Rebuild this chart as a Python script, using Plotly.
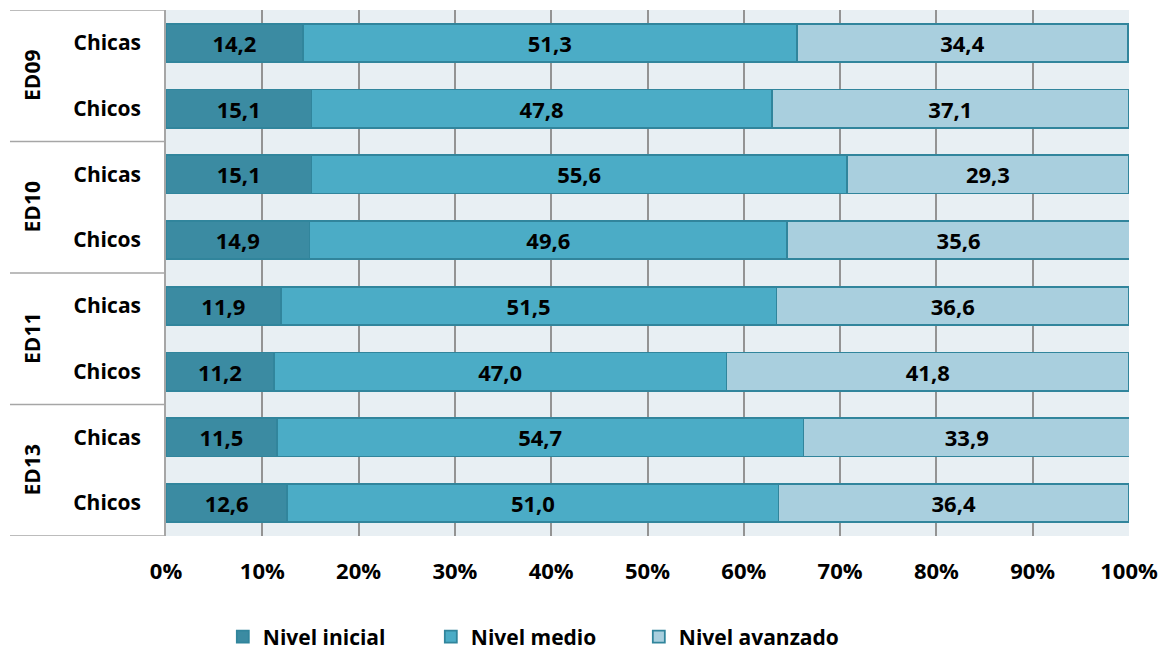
import plotly.graph_objects as go

groups = ["ED09", "ED09", "ED10", "ED10", "ED11", "ED11", "ED13", "ED13"]
sexes = ["Chicas", "Chicos", "Chicas", "Chicos", "Chicas", "Chicos", "Chicas", "Chicos"]
nivel_inicial = [14.2, 15.1, 15.1, 14.9, 11.9, 11.2, 11.5, 12.6]
nivel_medio = [51.3, 47.8, 55.6, 49.6, 51.5, 47.0, 54.7, 51.0]
nivel_avanzado = [34.4, 37.1, 29.3, 35.6, 36.6, 41.8, 33.9, 36.4]
series_names = ["Nivel inicial", "Nivel medio", "Nivel avanzado"]
x_ticks = [0, 10, 20, 30, 40, 50, 60, 70, 80, 90, 100]

colors = ["#3B8BA2", "#4BACC6", "#A9CFDE"]
outline = "#31859C"
FONT = "Open Sans"
bold_font = dict(family=FONT, size=21, color="black", weight="bold")
label_font = dict(family=FONT, size=22, color="black", weight="bold")

cats = [f"{g} {s}" for g, s in zip(groups, sexes)]

fig = go.Figure()
for name, vals, col in zip(series_names, [nivel_inicial, nivel_medio, nivel_avanzado], colors):
    fig.add_trace(go.Bar(
        y=cats, x=vals, name=name, orientation="h",
        marker=dict(color=col, line=dict(color=outline, width=1.8)),
        text=[f"{v:.1f}".replace(".", ",") for v in vals],
        textposition="inside", insidetextanchor="middle",
        textfont=label_font,
        constraintext="none",
        hoverinfo="skip",
    ))

# group separators and labels on the left
unique_groups = []
for g in groups:
    if g not in unique_groups:
        unique_groups.append(g)

line_color = "#A6A6A6"
x_left = -0.162
boundaries = [-0.5]
for g in unique_groups:
    idx = [i for i, gg in enumerate(groups) if gg == g]
    boundaries.append(max(idx) + 0.5)
    fig.add_annotation(
        x=-0.139, xref="paper", y=(min(idx) + max(idx)) / 2, yref="y",
        xanchor="center", yanchor="middle",
        text=g, textangle=-90, showarrow=False,
        font=bold_font,
    )
for b in boundaries:
    fig.add_shape(type="line", xref="paper", yref="y", x0=x_left, x1=0, y0=b, y1=b,
                  line=dict(color=line_color, width=1.5))

fig.update_layout(
    width=1166, height=650,
    margin=dict(l=166, r=37, t=10, b=114, autoexpand=False),
    barmode="stack", bargap=0.42,
    paper_bgcolor="white", plot_bgcolor="#E8EFF3",
    font=bold_font,
    showlegend=True,
    legend=dict(orientation="h", x=0.059, xanchor="left", y=-0.192, yanchor="middle",
                font=bold_font, traceorder="normal",
                entrywidth=163, entrywidthmode="pixels"),
)
fig.update_xaxes(
    range=[0, 100], tickvals=x_ticks, ticktext=[f"{t}%" for t in x_ticks],
    showgrid=True, gridcolor="#939393", gridwidth=1.8,
    zeroline=False, showline=False, ticks="", ticklabelstandoff=20,
    tickfont=label_font, automargin=False,
)
fig.update_yaxes(
    type="category", categoryorder="array", categoryarray=cats,
    range=[7.5, -0.5], tickvals=cats, ticktext=sexes,
    showgrid=False, showline=True, linecolor=line_color, linewidth=1.5,
    ticks="", ticklabelstandoff=19,
    tickfont=bold_font, automargin=False,
)

fig.write_html(
    "out.html",
    config={"displayModeBar": False},
    post_script="document.body.style.margin='0';document.body.style.overflow='hidden';",
)
